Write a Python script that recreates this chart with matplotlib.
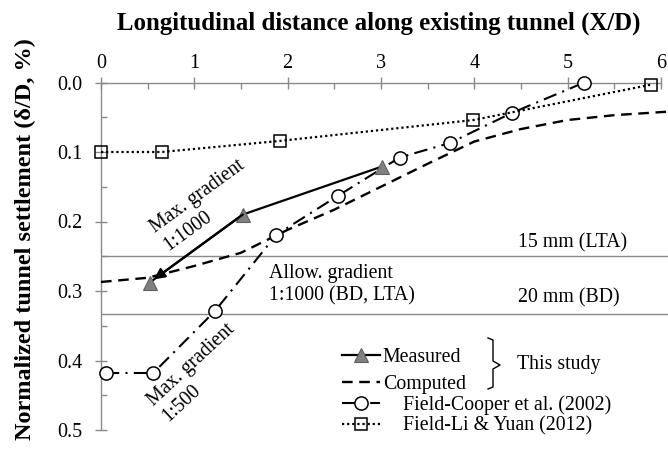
import matplotlib
matplotlib.use("Agg")
import matplotlib.pyplot as plt
from matplotlib.lines import Line2D
from matplotlib.ticker import FixedLocator

plt.rcParams['font.family'] = ['Liberation Serif', 'DejaVu Serif']

# ---- data ----
measured_x = [0.52, 1.52, 3.01]
measured_y = [0.288, 0.190, 0.121]

computed_x = [0.0, 0.5, 1.0, 1.5, 2.0, 2.5, 3.0, 3.5, 4.0, 4.5, 5.0, 5.5, 6.07]
computed_y = [0.287, 0.281, 0.264, 0.245, 0.212, 0.183, 0.150, 0.117, 0.085, 0.067, 0.054, 0.047, 0.042]

cooper_x = [0.05, 0.56, 1.22, 1.88, 2.54, 3.20, 3.74, 4.40, 5.18]
cooper_y = [0.418, 0.418, 0.329, 0.219, 0.163, 0.108, 0.087, 0.044, 0.0]

liyuan_x = [0.0, 0.65, 1.92, 3.99, 5.90]
liyuan_y = [0.100, 0.100, 0.084, 0.054, 0.003]

limit_lta = 0.25      # 15 mm (LTA)
limit_bd = 0.333      # 20 mm (BD)

x_ticks = [0, 1, 2, 3, 4, 5, 6]
y_ticks = [0.0, 0.1, 0.2, 0.3, 0.4, 0.5]

W, H = 668, 450
fig = plt.figure(figsize=(W / 100, H / 100), dpi=100)
ax = fig.add_axes([101 / W, 1 - 430 / H, (668 - 101) / W, (430 - 82.5) / H])

GRAY = '#8a8a8a'
FS = 14.3

ax.axhline(limit_lta, color=GRAY, lw=1.0, zorder=1)
ax.axhline(limit_bd, color=GRAY, lw=1.0, zorder=1)

l_comp, = ax.plot(computed_x, computed_y, color='black', lw=1.7, ls=(0, (4.5, 2.8)),
                  label='Computed', zorder=3, clip_on=False)
l_coop, = ax.plot(cooper_x, cooper_y, color='black', lw=1.5, ls=(0, (6.5, 3, 1, 3)),
                  marker='o', ms=9.5, mfc='white', mec='black', mew=1.1,
                  label='Field-Cooper et al. (2002)', zorder=4, clip_on=False)
l_li, = ax.plot(liyuan_x, liyuan_y, color='black', lw=1.6, ls=(0, (1, 1.3)),
                marker='s', ms=8.5, mfc='none', mec='black', mew=1.1,
                label='Field-Li & Yuan (2012)', zorder=4, clip_on=False)
l_meas, = ax.plot(measured_x, measured_y, color='black', lw=1.6, ls='-',
                  marker='^', ms=9.5, mfc='#808080', mec='#606060', mew=0.8,
                  label='Measured', zorder=5, clip_on=False)
# arrowhead on first measured segment
ax.annotate('', xy=(measured_x[0], measured_y[0]), xytext=(measured_x[1], measured_y[1]),
            arrowprops=dict(arrowstyle='-|>', color='black', lw=1.6,
                            mutation_scale=16, shrinkA=0, shrinkB=4), zorder=6)

ax.set_xlim(0, 567 / 93.3)
ax.set_ylim(0.5, 0.0)

for s in ['right', 'bottom']:
    ax.spines[s].set_visible(False)
for s in ['left', 'top']:
    ax.spines[s].set_color(GRAY)
    ax.spines[s].set_linewidth(1.0)
ax.spines['top'].set_bounds(0, 6)
ax.spines['left'].set_bounds(0.0, 0.5)

ax.xaxis.tick_top()
ax.xaxis.set_major_locator(FixedLocator(x_ticks))
ax.xaxis.set_minor_locator(FixedLocator([0.5, 1.5, 2.5, 3.5, 4.5, 5.5]))
ax.yaxis.set_major_locator(FixedLocator(y_ticks))
ax.yaxis.set_minor_locator(FixedLocator([0.05, 0.15, 0.25, 0.35, 0.45]))
ax.set_xticklabels([str(t) for t in x_ticks])
ax.set_yticklabels(['%.1f' % t for t in y_ticks])

ax.tick_params(axis='both', which='major', direction='inout', length=8, width=1,
               color=GRAY, labelsize=14.5)
ax.tick_params(axis='both', which='minor', direction='in', length=4.5, width=1, color=GRAY)
ax.tick_params(axis='x', which='major', pad=3)
ax.tick_params(axis='y', which='major', pad=9.5)

ax.set_xlabel('Longitudinal distance along existing tunnel (X/D)', fontsize=17.9,
              fontweight='bold')
ax.xaxis.set_label_position('top')
ax.xaxis.set_label_coords((379 - 101) / 567, 1 + (82.5 - 23) / 347.5)
ax.xaxis.label.set_va('center')
ax.set_ylabel('Normalized tunnel settlement (δ/D, %)', fontsize=17.5, fontweight='bold')
ax.yaxis.set_label_coords(-(101 - 25) / 567, (430 - 239) / 347.5)
ax.yaxis.label.set_va('center')

# annotations (anchored at the baseline start of the last line)
ax.text(0.703, 0.2385, 'Max. gradient\n1:1000', rotation=36, rotation_mode='anchor',
        ha='left', va='baseline', multialignment='left', fontsize=FS)
ax.text(0.704, 0.4856, 'Max. gradient\n1:500', rotation=43, rotation_mode='anchor',
        ha='left', va='baseline', multialignment='left', fontsize=FS)
ax.text(1.80, 0.313, 'Allow. gradient\n1:1000 (BD, LTA)', ha='left', va='baseline',
        multialignment='left', fontsize=FS)
ax.text(4.47, 0.2377, '15 mm (LTA)', ha='left', va='baseline', fontsize=FS)
ax.text(4.47, 0.317, '20 mm (BD)', ha='left', va='baseline', fontsize=FS)

# legends
leg1 = fig.legend([l_meas, l_comp], ['Measured', 'Computed'], loc='upper left',
                  bbox_to_anchor=(342 / W, 1 - 347.5 / H), frameon=False, fontsize=FS,
                  handlelength=1.9, handletextpad=0.15, labelspacing=0.41,
                  borderpad=0, borderaxespad=0, numpoints=1)
leg2 = fig.legend([l_coop, l_li], ['Field-Cooper et al. (2002)', 'Field-Li & Yuan (2012)'],
                  loc='upper left', bbox_to_anchor=(342 / W, 1 - 395.5 / H), frameon=False,
                  fontsize=FS, handlelength=1.9, handletextpad=1.15, labelspacing=0.06,
                  borderpad=0, borderaxespad=0, numpoints=1)

# brace + "This study"
bx = [488, 493, 493, 500, 493, 493, 488]
by = [338, 340, 361, 365, 369, 387, 389]
fig.add_artist(Line2D([v / W for v in bx], [1 - v / H for v in by],
                      transform=fig.transFigure, color='black', lw=1.0))
fig.text(517 / W, 1 - 365 / H, 'This study', ha='left', va='center', fontsize=FS)

fig.savefig('out.png', dpi=100)
